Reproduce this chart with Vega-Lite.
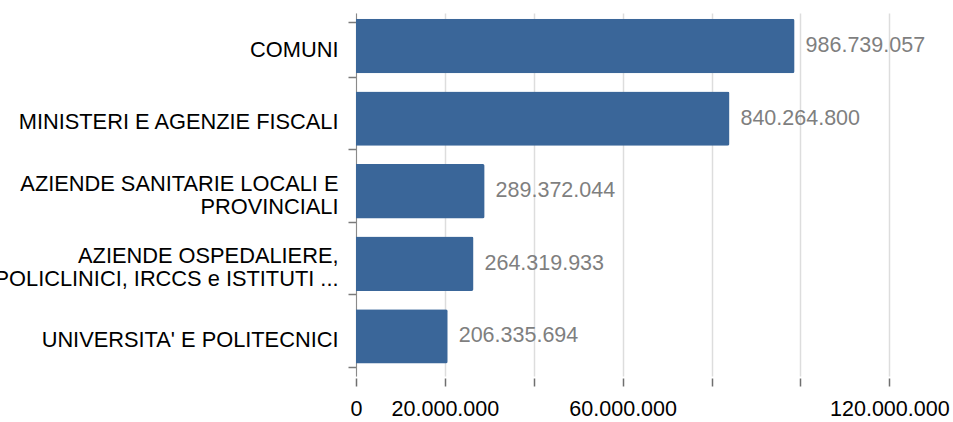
{
  "$schema": "https://vega.github.io/schema/vega-lite/v6.json",
  "autosize": {"type": "none"},
  "padding": {"left": 356, "top": 13, "right": 0, "bottom": 46},
  "width": 600,
  "height": 363,
  "background": "white",
  "config": {
    "font": "Liberation Sans",
    "view": {"stroke": null},
    "locale": {"number": {"decimal": ",", "thousands": ".", "grouping": [3], "currency": ["€", ""]}}
  },
  "data": {
    "values": [
      {"ente": "COMUNI", "valore": 986739057},
      {"ente": "MINISTERI E AGENZIE FISCALI", "valore": 840264800},
      {"ente": "AZIENDE SANITARIE LOCALI E|PROVINCIALI", "valore": 289372044},
      {"ente": "AZIENDE OSPEDALIERE,|POLICLINICI, IRCCS e ISTITUTI ...", "valore": 264319933},
      {"ente": "UNIVERSITA' E POLITECNICI", "valore": 206335694}
    ]
  },
  "encoding": {
    "y": {
      "field": "ente",
      "type": "nominal",
      "sort": null,
      "scale": {"paddingInner": 0.25, "paddingOuter": 0.125},
      "axis": {
        "title": null,
        "tickBand": "extent",
        "tickExtra": true,
        "tickSize": 8,
        "tickWidth": 1.5,
        "tickColor": "#7a7a7a",
        "domainColor": "#8a8a8a",
        "domainWidth": 1,
        "labelPadding": 10,
        "labelFontSize": 21.8,
        "labelColor": "#000000",
        "labelLimit": 1000,
        "labelLineHeight": 11.5,
        "labelOffset": -11.5,
        "labelExpr": "indexof(datum.label, '|') >= 0 ? [split(datum.label, '|')[0], '\u200b', split(datum.label, '|')[1]] : ['\u200b', datum.label]"
      }
    }
  },
  "layer": [
    {
      "mark": {"type": "bar", "color": "#3a6699", "yOffset": -3.3, "cornerRadiusEnd": 2},
      "encoding": {
        "x": {
          "field": "valore",
          "type": "quantitative",
          "scale": {"domain": [0, 1350000000], "nice": false},
          "axis": {
            "title": null,
            "values": [0, 200000000, 400000000, 600000000, 800000000, 1000000000, 1200000000],
            "domain": false,
            "offset": 2,
            "tickSize": 8,
            "tickWidth": 1.5,
            "tickColor": "#6f6f6f",
            "grid": true,
            "gridColor": "#dddddd",
            "gridWidth": 1.5,
            "labelOverlap": false,
            "labelFlush": false,
            "labelPadding": 12,
            "labelFontSize": 21.5,
            "labelColor": "#000000",
            "labelExpr": "indexof([0, 200000000, 600000000, 1200000000], datum.value) >= 0 ? replace(replace(format(datum.value / 10, ',.0f'), ',', '.'), ',', '.') : ''"
          }
        }
      }
    },
    {
      "mark": {"type": "text", "align": "left", "baseline": "middle", "dx": 11, "yOffset": -3.3, "fontSize": 21.5, "color": "#7f7f7f"},
      "encoding": {
        "x": {"field": "valore", "type": "quantitative"},
        "text": {"field": "valore", "type": "quantitative", "format": ",d"}
      }
    }
  ]
}
